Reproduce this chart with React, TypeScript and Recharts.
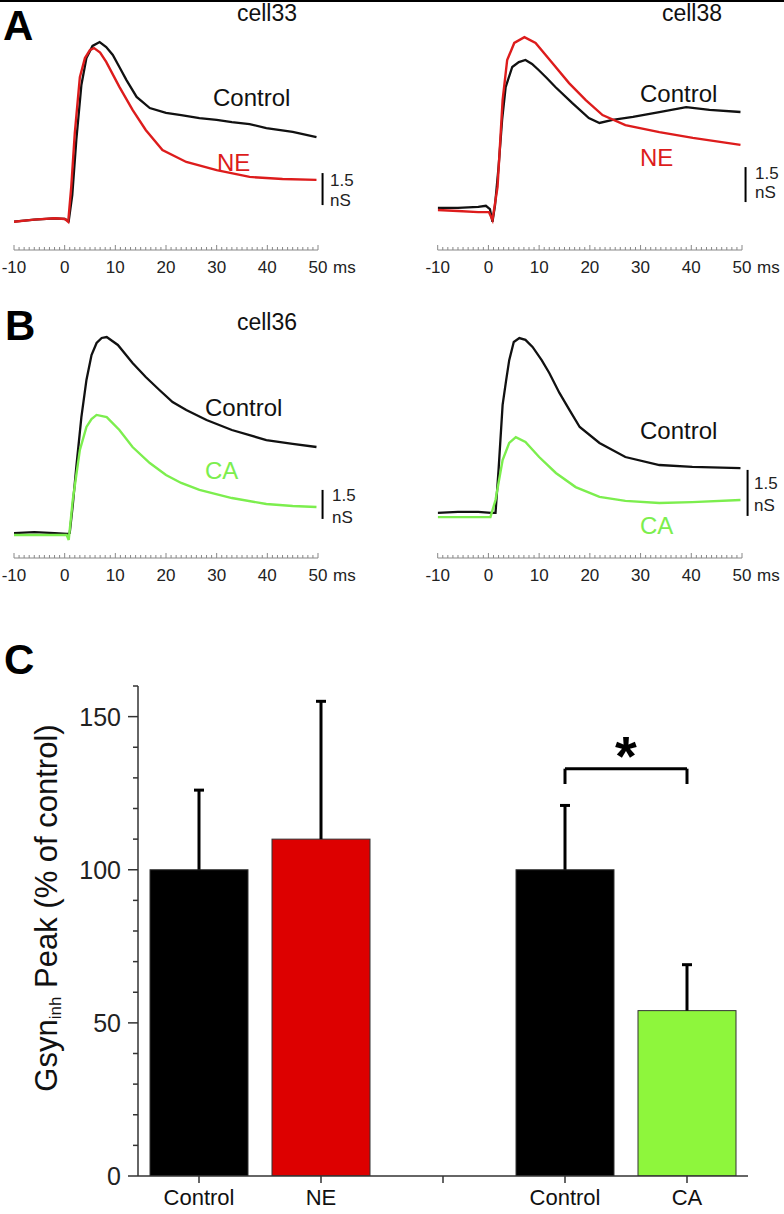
import React from "react";
import { LineChart, Line, XAxis, YAxis, ReferenceLine, BarChart, Bar } from "recharts";

const FONT = "Arial, 'Liberation Sans', Helvetica, sans-serif";

// ---- traces (time in ms, conductance in nS above baseline) ----
const cell33ControlTime = [-10, -6, -2, 0, 0.8, 1.5, 2.3, 3.3, 4.3, 5.5, 6.9, 8.2, 9.5, 10.8, 12.2, 14.2, 16.8, 20, 23, 26.6, 30, 33, 36.5, 39.8, 45, 49.7];
const cell33Control = [-0.08, 0.02, 0.08, 0.05, -0.05, 1.17, 3.75, 6.33, 7.6, 8.16, 8.34, 8.11, 7.74, 7.17, 6.56, 5.77, 5.25, 5.02, 4.92, 4.78, 4.69, 4.59, 4.5, 4.31, 4.13, 3.89];
const cell33NETime = [-10, -6, -2, 0, 0.7, 1.3, 2, 3, 4, 5, 5.8, 7, 8.2, 10.8, 13.4, 16, 19.3, 24, 30, 36.5, 43, 49.7];
const cell33NE = [-0.08, 0.02, 0.08, 0.05, -0.09, 1.55, 4.08, 6.7, 7.59, 7.97, 8.06, 7.85, 7.41, 6.24, 5.16, 4.22, 3.28, 2.72, 2.34, 2.02, 1.92, 1.88];

const cell38ControlTime = [-10, -6, -2, -0.5, 0.3, 0.8, 1.3, 2, 2.7, 3.4, 4.7, 6, 7.3, 8.6, 9.9, 11.5, 13.2, 16.5, 19.8, 21.9, 24.5, 28.5, 33.7, 39, 43.6, 49.7];
const cell38Control = [0.09, 0.09, 0.13, 0.18, 0.04, -0.51, 0.2, 1.84, 3.86, 5.27, 6.13, 6.34, 6.43, 6.26, 6.0, 5.66, 5.27, 4.59, 3.94, 3.73, 3.86, 3.99, 4.2, 4.41, 4.29, 4.2];
const cell38NETime = [-10, -6, -2, 0.1, 0.8, 1.8, 2.8, 3.7, 5.1, 7.1, 9.3, 12.6, 15.9, 19.2, 22.5, 27, 33.7, 40.3, 49.7];
const cell38NE = [0, -0.04, -0.09, -0.09, -0.43, 0.99, 4.71, 6.43, 7.16, 7.41, 7.16, 6.3, 5.44, 4.71, 4.07, 3.64, 3.34, 3.09, 2.79];

const cell36ControlTime = [-10, -6, -2, 0.5, 1, 1.6, 2.3, 3.3, 4.3, 5.3, 6.3, 7.3, 8.3, 10.5, 13.4, 16, 18.7, 21.3, 24, 28, 33, 39.8, 45, 49.7];
const cell36Control = [0.05, 0.1, 0.05, 0, 0.05, 1.5, 3.47, 6.05, 7.97, 9.26, 9.88, 10.14, 10.19, 9.78, 8.85, 8.12, 7.45, 6.83, 6.41, 5.9, 5.38, 4.86, 4.66, 4.5];
const cell36CATime = [-10, -6, -2, 0.4, 0.8, 1.6, 3, 4.3, 5.3, 6.3, 8.3, 10.8, 13.4, 16.8, 20, 23, 26.6, 33, 39.8, 45, 49.7];
const cell36CA = [-0.05, -0.05, -0.05, -0.05, -0.31, 1.76, 4.35, 5.54, 5.95, 6.16, 6.05, 5.38, 4.5, 3.67, 3.05, 2.64, 2.28, 1.86, 1.55, 1.45, 1.4];

const cellBControlTime = [-10, -6, -2, 0.5, 1.4, 2, 2.8, 3.5, 4.1, 5, 6.1, 7.3, 8.7, 10.5, 12, 14, 16, 18, 21.9, 27, 33.7, 40.2, 49.7];
const cellBControl = [0.07, 0.1, 0.1, 0.07, 0.07, 1.47, 3.59, 4.4, 5.05, 5.64, 5.77, 5.71, 5.48, 5.05, 4.63, 3.98, 3.42, 2.87, 2.35, 1.89, 1.63, 1.57, 1.53];
const cellBCATime = [-10, -6, -2, 0.4, 1.4, 2.8, 4.1, 5.4, 7.3, 10, 13.3, 17.2, 21.9, 27, 33.7, 40.2, 49.7];
const cellBCA = [-0.07, -0.07, -0.07, -0.07, 0.49, 1.79, 2.35, 2.54, 2.38, 1.89, 1.37, 0.91, 0.59, 0.46, 0.39, 0.42, 0.49];

const rulerLabels = [-10, 0, 10, 20, 30, 40, 50];
const rulerTicks = Array.from({ length: 61 }, (_, i) => i - 10);

// ---- bar chart (panel C) ----
const barLabels = ["Control", "NE", "", "Control", "CA"];
const barMeans = [100, 110, null, 100, 54];
const barSem = [26, 45, null, 21, 15];
const barColors = ["#000000", "#dd0000", "none", "#000000", "#8ef63c"];
const pctTicks = [0, 10, 20, 30, 40, 50, 60, 70, 80, 90, 100, 110, 120, 130, 140, 150, 160];

const BLACK = "#111111";
const RED = "#dd1c1c";
const GREEN = "#7cee4e";

const toPts = (t: number[], v: number[]) => t.map((tt, i) => ({ t: tt, v: v[i] }));

const RulerTick = (props: any) => {
  const { x, y, payload } = props;
  const v = payload.value;
  const major = rulerLabels.includes(v);
  return (
    <g>
      <line x1={x} x2={x} y1={y} y2={y - (major ? 5 : 3)} stroke="#888" strokeWidth={1} />
      {major && (
        <text x={x} y={y + 23} textAnchor="middle" fontSize={17} fill="#222" fontFamily={FONT}>
          {v}
        </text>
      )}
      {v === 50 && (
        <text x={x + 15} y={y + 23} fontSize={17} fill="#222" fontFamily={FONT}>
          ms
        </text>
      )}
    </g>
  );
};

interface PanelProps {
  left: number;
  top: number;
  mLeft: number;
  mRight: number;
  base: number; // page y of 0 nS
  k: number; // px per nS
  bar: { x: number; y0: number };
  control: { t: number[]; v: number[] };
  drug: { t: number[]; v: number[]; color: string };
}

const PLOT_H = 240;

const TracePanel = ({ left, top, mLeft, mRight, base, k, bar, control, drug }: PanelProps) => {
  const plotTop = top + 10;
  const axisY = plotTop + PLOT_H;
  const domain = [(base - axisY) / k, (base - plotTop) / k];
  return (
    <div style={{ position: "absolute", left, top }}>
      <LineChart width={392} height={PLOT_H + 40} margin={{ top: 10, left: mLeft, right: mRight, bottom: 0 }}>
        <XAxis
          dataKey="t"
          type="number"
          domain={[-10, 50]}
          allowDataOverflow
          ticks={rulerTicks}
          interval={0}
          height={30}
          tickSize={0}
          tickMargin={0}
          tickLine={false}
          axisLine={{ stroke: "#888", strokeWidth: 1 }}
          tick={<RulerTick />}
        />
        <YAxis hide type="number" domain={domain} allowDataOverflow />
        <Line data={toPts(control.t, control.v)} dataKey="v" type="linear" dot={false} stroke={BLACK} strokeWidth={2.3} isAnimationActive={false} />
        <Line data={toPts(drug.t, drug.v)} dataKey="v" type="linear" dot={false} stroke={drug.color} strokeWidth={2.4} isAnimationActive={false} />
        <ReferenceLine
          segment={[{ x: bar.x, y: bar.y0 }, { x: bar.x, y: bar.y0 + 1.5 }]}
          stroke="#000"
          strokeWidth={2}
          ifOverflow="visible"
        />
      </LineChart>
    </div>
  );
};

const BarWithError = (props: any) => {
  const { x, y, width, height, payload } = props;
  if (payload.mean == null || !height) return <g />;
  const pxPerUnit = height / payload.mean;
  const top = y - payload.sem * pxPerUnit;
  const cx = x + width / 2;
  return (
    <g>
      <rect x={x} y={y} width={width} height={height} fill={payload.color} stroke="#333" strokeWidth={1} />
      <line x1={cx} x2={cx} y1={y} y2={top} stroke="#000" strokeWidth={3} />
      <line x1={cx - 5} x2={cx + 5} y1={top} y2={top} stroke="#000" strokeWidth={3} />
    </g>
  );
};

const PctTick = (props: any) => {
  const { x, y, payload } = props;
  const v = payload.value;
  const major = v % 50 === 0;
  return (
    <g>
      <line x1={x} x2={x - (major ? 10 : 5)} y1={y} y2={y} stroke="#333" strokeWidth={1.5} />
      {major && (
        <text x={x - 17} y={y + 9} textAnchor="end" fontSize={25} fill="#222" fontFamily={FONT}>
          {v}
        </text>
      )}
    </g>
  );
};

const Star = (props: any) => {
  const vb = props.viewBox || {};
  return (
    <text x={vb.x + vb.width / 2} y={vb.y + 6} textAnchor="middle" fontSize={56} fontWeight="bold" fill="#000" fontFamily={FONT}>
      *
    </text>
  );
};

export default function App() {
  const barData = barLabels.map((label, i) => ({
    key: `g${i}`,
    label,
    mean: barMeans[i],
    sem: barSem[i],
    color: barColors[i],
  }));

  return (
    <div style={{ position: "absolute", left: 0, top: 0, width: 784, height: 1214, background: "#fff", overflow: "hidden", fontFamily: FONT }}>
      <div style={{ position: "absolute", left: 0, top: 0, width: 784, height: 2, background: "#000" }} />

      <TracePanel left={0} top={0} mLeft={14} mRight={74} base={220} k={21.33} bar={{ x: 50.9, y0: 0.7 }}
        control={{ t: cell33ControlTime, v: cell33Control }} drug={{ t: cell33NETime, v: cell33NE, color: RED }} />
      <TracePanel left={392} top={0} mLeft={45.7} mRight={42} base={210} k={23.33} bar={{ x: 50.7, y0: 0.34 }}
        control={{ t: cell38ControlTime, v: cell38Control }} drug={{ t: cell38NETime, v: cell38NE, color: RED }} />
      <TracePanel left={0} top={308} mLeft={14} mRight={74} base={534} k={19.33} bar={{ x: 50.9, y0: 0.78 }}
        control={{ t: cell36ControlTime, v: cell36Control }} drug={{ t: cell36CATime, v: cell36CA, color: GREEN }} />
      <TracePanel left={392} top={308} mLeft={45.7} mRight={42} base={515} k={30.67} bar={{ x: 51.1, y0: -0.03 }}
        control={{ t: cellBControlTime, v: cellBControl }} drug={{ t: cellBCATime, v: cellBCA, color: GREEN }} />

      <div style={{ position: "absolute", left: 0, top: 640 }}>
        <BarChart width={784} height={574} data={barData} margin={{ top: 46, left: 78, right: 36, bottom: 0 }}>
          <XAxis
            dataKey="key"
            height={38}
            tickFormatter={(_: any, i: number) => barLabels[i]}
            tick={{ fontSize: 22, fill: "#111", fontFamily: FONT }}
            tickLine={{ stroke: "#333", strokeWidth: 1.5 }}
            tickSize={7}
            tickMargin={6}
            axisLine={{ stroke: "#333", strokeWidth: 1.5 }}
            interval={0}
          />
          <YAxis
            width={60}
            type="number"
            domain={[0, 160]}
            allowDataOverflow
            ticks={pctTicks}
            interval={0}
            tickLine={false}
            tickSize={0}
            tickMargin={0}
            axisLine={{ stroke: "#333", strokeWidth: 1.5 }}
            tick={<PctTick />}
          />
          <Bar dataKey="mean" shape={<BarWithError />} barSize={98} isAnimationActive={false} />
          <ReferenceLine segment={[{ x: "g3", y: 133 }, { x: "g4", y: 133 }]} stroke="#000" strokeWidth={3} label={<Star />} />
          <ReferenceLine segment={[{ x: "g3", y: 133 }, { x: "g3", y: 128 }]} stroke="#000" strokeWidth={3} />
          <ReferenceLine segment={[{ x: "g4", y: 133 }, { x: "g4", y: 128 }]} stroke="#000" strokeWidth={3} />
        </BarChart>
      </div>

      <svg width={784} height={1214} style={{ position: "absolute", left: 0, top: 0, pointerEvents: "none" }} fontFamily={FONT}>
        <text x={3} y={40} fontSize={42} fontWeight="bold" fill="#000">A</text>
        <text x={5} y={340} fontSize={42} fontWeight="bold" fill="#000">B</text>
        <text x={4} y={674} fontSize={42} fontWeight="bold" fill="#000">C</text>

        <text x={267} y={21} fontSize={23} textAnchor="middle" fill="#111">cell33</text>
        <text x={692} y={21} fontSize={23} textAnchor="middle" fill="#111">cell38</text>
        <text x={267} y={330} fontSize={23} textAnchor="middle" fill="#111">cell36</text>

        <text x={213} y={106} fontSize={24} fill="#111">Control</text>
        <text x={217} y={171} fontSize={24} fill={RED}>NE</text>
        <text x={640} y={102} fontSize={24} fill="#111">Control</text>
        <text x={640} y={166} fontSize={24} fill={RED}>NE</text>
        <text x={205} y={416} fontSize={24} fill="#111">Control</text>
        <text x={205} y={479} fontSize={24} fill={GREEN}>CA</text>
        <text x={640} y={439} fontSize={24} fill="#111">Control</text>
        <text x={640} y={534} fontSize={24} fill={GREEN}>CA</text>

        <text x={330} y={186} fontSize={17} fill="#222">1.5</text>
        <text x={330} y={206} fontSize={17} fill="#222">nS</text>
        <text x={755} y={179} fontSize={17} fill="#222">1.5</text>
        <text x={755} y={198} fontSize={17} fill="#222">nS</text>
        <text x={332} y={501} fontSize={17} fill="#222">1.5</text>
        <text x={332} y={523} fontSize={17} fill="#222">nS</text>
        <text x={754} y={489} fontSize={17} fill="#222">1.5</text>
        <text x={754} y={511} fontSize={17} fill="#222">nS</text>

        <text transform="translate(46,908) rotate(-90)" textAnchor="middle" dominantBaseline="central" fontSize={31} fill="#111">
          Gsyn<tspan fontSize={17} dy={9}>inh</tspan>
          <tspan dy={-9}> Peak (% of control)</tspan>
        </text>
      </svg>
    </div>
  );
}
